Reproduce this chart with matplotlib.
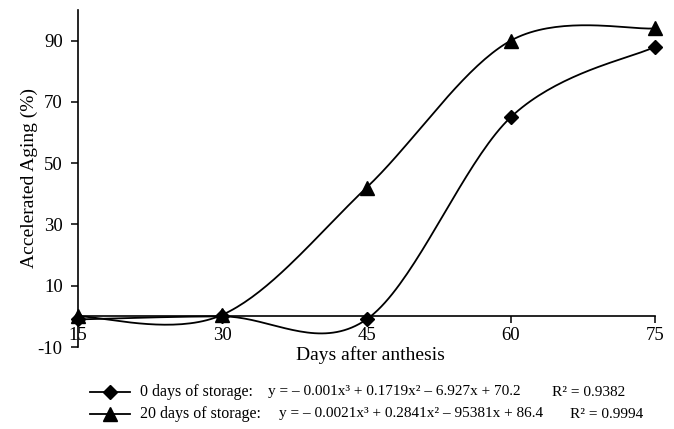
import matplotlib
matplotlib.use("Agg")
import matplotlib.pyplot as plt
from matplotlib.lines import Line2D
import numpy as np

plt.rcParams['font.family'] = ['Liberation Serif', 'DejaVu Serif']
plt.rcParams['axes.unicode_minus'] = False

days = [15, 30, 45, 60, 75]
storage0 = [-1, 0, -1, 65, 88]
storage20 = [0, 0.5, 42, 90, 94]

names = ["0 days of storage:", "20 days of storage:"]
equations = ["y = – 0.001x³ + 0.1719x² – 6.927x + 70.2",
             "y = – 0.0021x³ + 0.2841x² – 95381x + 86.4"]
r2 = ["R² = 0.9382", "R² = 0.9994"]

yticks = [-10, 10, 30, 50, 70, 90]


def smooth(x, y, n=40):
    # excel-like smoothed line (bezier with catmull-rom control points)
    x = np.asarray(x, float)
    y = np.asarray(y, float)
    pts = np.column_stack([x, y])
    out = []
    for i in range(len(pts) - 1):
        p0 = pts[i - 1] if i > 0 else pts[i]
        p1 = pts[i]
        p2 = pts[i + 1]
        p3 = pts[i + 2] if i + 2 < len(pts) else pts[i + 1]
        c1 = p1 + (p2 - p0) / 6.0
        c2 = p2 - (p3 - p1) / 6.0
        t = np.linspace(0, 1, n)[:, None]
        seg = ((1 - t) ** 3) * p1 + 3 * ((1 - t) ** 2) * t * c1 + 3 * (1 - t) * t ** 2 * c2 + t ** 3 * p2
        out.append(seg)
    out = np.vstack(out)
    return out[:, 0], out[:, 1]


fig = plt.figure(figsize=(6.74, 4.29), dpi=100)
ax = fig.add_axes([78 / 674, 1 - 347 / 429, (655 - 78) / 674, (347 - 10) / 429])

sx, sy = smooth(days, storage0)
ax.plot(sx, sy, color='black', lw=1.3, clip_on=False)
ax.plot(days, storage0, 'D', color='black', ms=7.5, clip_on=False)
sx, sy = smooth(days, storage20)
ax.plot(sx, sy, color='black', lw=1.3, clip_on=False)
ax.plot(days, storage20, '^', color='black', ms=10, clip_on=False)

ax.set_xlim(15, 75)
ax.set_ylim(-10, 100)
ax.set_xticks(days)
ax.set_yticks(yticks)
ax.spines['bottom'].set_position(('data', 0))
ax.spines['top'].set_visible(False)
ax.spines['right'].set_visible(False)
ax.spines['left'].set_linewidth(1.2)
ax.spines['bottom'].set_linewidth(1.2)
ax.tick_params(labelsize=13.5, length=5, width=1.1, direction='out')
ax.tick_params(axis='y', pad=6)
ax.tick_params(axis='x', pad=3)

ax.set_ylabel("Accelerated Aging (%)", fontsize=14, labelpad=0)
fig.text(370 / 674, 1 - 355 / 429, "Days after anthesis", fontsize=14,
         ha='center', va='center')

# legend below the chart
rows = [392, 414]
markers = ['D', '^']
msizes = [7.5, 10]
eq_x = [268, 279]
r2_x = [552, 570]
for i in range(2):
    yy = 1 - rows[i] / 429
    fig.add_artist(Line2D([90 / 674, 130 / 674], [yy, yy], color='black', lw=1.3))
    fig.add_artist(Line2D([110 / 674], [yy], marker=markers[i], color='black', ms=msizes[i]))
    fig.text(140 / 674, yy, names[i], fontsize=11.5, va='center')
    fig.text(eq_x[i] / 674, yy, equations[i], fontsize=11, va='center')
    fig.text(r2_x[i] / 674, yy, r2[i], fontsize=11, va='center')

fig.savefig("out.png", dpi=100)
